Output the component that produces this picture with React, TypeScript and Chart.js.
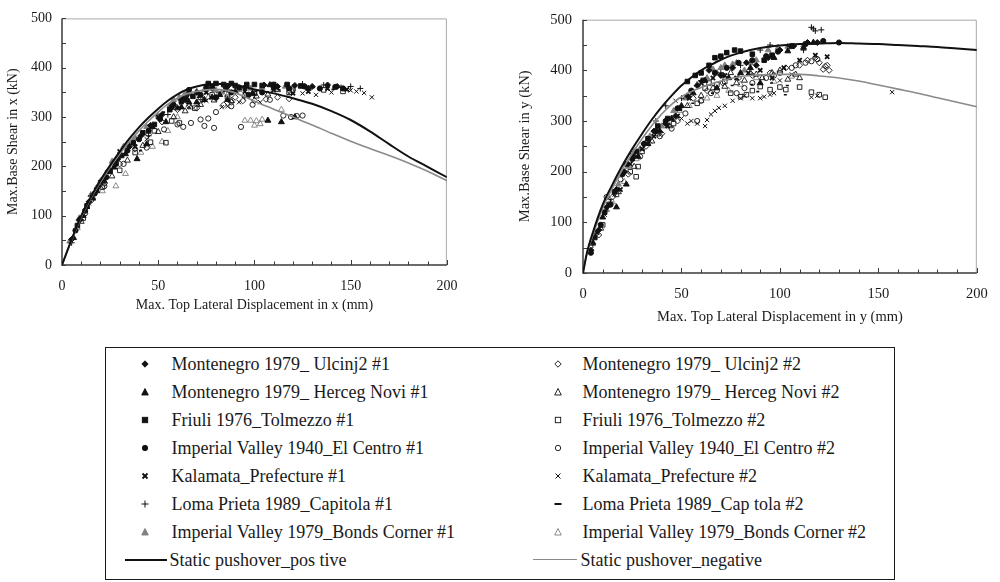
import React, { useEffect, useRef } from 'react';
import { Chart, registerables } from 'chart.js';
Chart.register(...registerables);

type Pt = [number, number];

// ---------------- X direction (left chart) ----------------
const xUlcinj1: Pt[] = [[5,52],[9,92],[14,128],[19,160],[24,190],[29,215],[35,240],[41,262],[46,283],[52,305],[58,325],[63,338],[70,350],[78,358],[86,362],[95,360],[105,365],[112,362],[121,364],[130,362],[138,365],[143,362]];
const xHerceg1: Pt[] = [[6,55],[11,100],[16,135],[22,170],[27,198],[33,225],[39,215],[44,245],[47,280],[54,290],[60,318],[62,320],[66,330],[70,330],[74,335],[78,340],[82,345],[86,335],[90,352],[99,348],[107,293],[114,290],[121,300],[108,365],[128,358]];
const xFriuli1: Pt[] = [[8,80],[13,120],[18,152],[25,190],[31,222],[37,248],[42,268],[48,285],[56,315],[62,332],[68,342],[76,368],[78,362],[80,368],[84,366],[88,368],[90,364],[96,366],[100,366],[104,364],[110,366],[117,366],[124,363]];
const xCentro1: Pt[] = [[7,70],[12,110],[17,145],[23,178],[28,205],[34,232],[40,255],[45,272],[51,296],[57,320],[64,335],[66,355],[72,345],[75,360],[80,340],[88,350],[92,360],[97,345],[104,350],[110,360],[118,358],[126,362],[134,358],[142,361],[146,358]];
const xKalamata1: Pt[] = [[10,95],[20,168],[30,230],[38,240],[50,300],[58,325],[65,340],[75,350],[85,355],[95,352],[110,355],[120,348],[128,352],[138,358],[148,356]];
const xLoma1: Pt[] = [[5,45],[15,140],[25,195],[35,245],[45,262],[55,305],[65,345],[75,355],[85,360],[95,340],[100,345],[110,365],[125,367],[136,365],[145,360],[150,362],[155,358]];
const xBonds1: Pt[] = [[4,48],[9,95],[15,142],[20,170],[26,210],[32,240],[38,258],[44,280],[50,303],[56,323],[58,335],[61,340],[64,348],[66,350],[70,352],[74,355],[80,354],[83,350],[86,356],[92,355],[98,358],[104,360],[110,358],[116,362],[120,360]];
const xUlcinj2: Pt[] = [[9,90],[15,130],[22,165],[30,205],[38,235],[45,265],[52,290],[60,315],[66,322],[70,318],[73,335],[80,338],[84,325],[88,330],[90,340],[94,333],[100,333],[106,336],[112,340],[118,337]];
const xHerceg2: Pt[] = [[10,88],[18,150],[26,180],[34,212],[42,242],[50,270],[58,300],[64,312],[72,325],[79,334],[88,333],[95,345],[101,342],[107,346],[112,355]];
const xFriuli2: Pt[] = [[11,95],[21,158],[30,192],[38,228],[46,249],[48,272],[54,248],[57,292],[61,288],[69,318],[72,340],[78,345],[86,340],[100,348],[118,350],[136,355],[146,352]];
const xCentro2: Pt[] = [[12,105],[22,160],[32,205],[44,238],[53,275],[60,285],[63,280],[67,288],[72,295],[74,282],[76,297],[79,278],[80,310],[88,322],[93,280],[99,325],[108,335],[115,303],[119,300],[122,302],[125,303]];
const xKalamata2: Pt[] = [[14,125],[28,210],[44,255],[56,315],[62,322],[66,320],[71,325],[75,333],[83,320],[86,322],[92,330],[103,330],[118,348],[125,348],[132,345],[140,350],[150,354],[153,352],[157,349],[161,340]];
const xLoma2: Pt[] = [[13,115],[26,200],[40,232],[52,310],[60,335],[70,340],[80,350],[92,355],[100,352],[112,355],[120,355],[130,360],[140,356],[146,357]];
const xBonds2: Pt[] = [[8,75],[16,138],[21,150],[28,160],[33,185],[41,228],[47,240],[52,250],[55,272],[60,300],[67,320],[76,340],[86,345],[95,293],[98,293],[100,283],[101,292],[103,286],[104,295],[114,315]];
const xPushPos: Pt[] = [[0,0],[5,52],[10,100],[15,138],[20,172],[25,202],[30,230],[35,256],[40,279],[45,299],[50,317],[55,333],[60,346],[65,356],[70,362],[75,366],[80,367],[85,367],[90,365],[95,361],[100,356],[110,348],[120,338],[130,327],[140,312],[150,294],[160,271],[170,245],[180,220],[190,199],[200,178]];
const xPushNeg: Pt[] = [[0,0],[5,50],[10,97],[15,135],[20,168],[25,198],[30,225],[35,250],[40,272],[45,292],[50,310],[55,326],[60,338],[65,347],[70,352],[75,355],[80,356],[85,354],[90,349],[95,341],[100,332],[110,316],[120,300],[130,284],[140,267],[150,251],[160,236],[170,222],[180,207],[190,190],[200,171]];

// ---------------- Y direction (right chart) ----------------
const yUlcinj1: Pt[] = [[4,45],[8,85],[12,130],[17,165],[21,200],[26,230],[31,255],[36,280],[42,295],[47,310],[53,350],[58,370],[64,400],[70,390],[76,405],[83,415],[88,410],[94,425],[100,440],[107,448],[114,455],[119,455]];
const yHerceg1: Pt[] = [[5,60],[10,110],[17,130],[22,175],[28,230],[33,255],[39,280],[45,305],[50,330],[56,355],[62,380],[68,365],[74,385],[80,395],[85,405],[90,375],[97,425],[104,438],[112,445],[117,455]];
const yFriuli1: Pt[] = [[6,70],[11,120],[16,160],[22,215],[27,240],[33,265],[38,290],[43,305],[49,325],[53,378],[57,390],[60,395],[64,410],[67,425],[70,428],[73,435],[77,440],[80,438],[86,432],[92,420],[96,430]];
const yCentro1: Pt[] = [[4,40],[9,95],[14,135],[20,195],[25,225],[31,255],[37,280],[42,300],[48,325],[55,360],[61,380],[67,395],[73,405],[79,415],[86,420],[93,428],[99,437],[106,448],[113,452],[122,458],[130,455]];
const yKalamata1: Pt[] = [[7,80],[13,135],[19,165],[24,215],[30,245],[36,270],[43,290],[48,310],[54,345],[60,375],[66,385],[72,390],[78,385],[84,395],[90,400],[96,385],[102,405],[110,420],[118,430],[124,427]];
const yLoma1: Pt[] = [[5,55],[14,140],[25,235],[37,300],[42,330],[50,345],[60,380],[70,395],[80,410],[90,440],[95,450],[105,447],[112,440],[116,485],[118,478],[121,480],[117,482]];
const yBonds1: Pt[] = [[6,75],[12,125],[18,175],[23,210],[29,245],[34,270],[40,290],[46,320],[52,345],[58,372],[63,385],[66,402],[68,395],[70,405],[72,410],[76,412],[78,415],[82,400],[85,415],[88,420],[94,440],[99,445],[104,447],[112,450]];
const yUlcinj2: Pt[] = [[8,75],[15,150],[23,195],[32,250],[40,275],[48,300],[56,345],[63,360],[71,375],[79,385],[86,390],[95,395],[103,405],[110,410],[114,420],[118,425],[120,415],[122,402],[123,408],[124,410],[125,400]];
const yHerceg2: Pt[] = [[9,88],[18,160],[26,210],[35,260],[44,290],[53,330],[60,350],[66,365],[72,368],[75,395],[78,375],[82,380],[85,395],[88,392],[91,385],[96,395],[100,400],[104,382],[108,392],[110,385]];
const yFriuli2: Pt[] = [[10,95],[17,155],[24,200],[27,190],[28,210],[30,240],[38,275],[46,295],[58,335],[62,365],[64,375],[68,372],[72,378],[75,355],[80,348],[83,352],[86,360],[90,368],[95,362],[100,367],[103,362],[110,367],[116,357],[120,352],[123,347]];
const yCentro2: Pt[] = [[12,150],[19,185],[29,230],[39,270],[45,285],[52,315],[58,300],[60,340],[65,355],[68,360],[71,390],[78,355],[82,365],[86,375],[93,385],[97,390],[100,395],[106,405],[108,410],[113,415],[116,418],[119,422]];
const yKalamata2: Pt[] = [[11,115],[16,155],[34,260],[47,340],[50,305],[53,295],[55,300],[58,295],[62,290],[63,302],[65,313],[67,320],[69,326],[72,330],[76,340],[80,345],[82,350],[86,345],[90,345],[92,348],[95,352],[97,355],[100,380],[106,392],[116,347],[119,350],[157,357]];
const yLoma2: Pt[] = [[13,145],[29,245],[45,300],[55,335],[65,355],[75,370],[85,372],[88,358],[95,375],[102,352],[103,370]];
const yBonds2: Pt[] = [[7,80],[15,140],[21,180],[27,225],[33,265],[41,290],[49,320],[54,330],[60,340],[63,345],[68,350],[74,360],[80,372],[88,385],[97,378],[106,388]];
const yPushPos: Pt[] = [[0,0],[2,40],[5,80],[10,135],[15,175],[20,212],[25,245],[30,275],[35,303],[40,328],[45,350],[50,370],[55,386],[60,400],[65,411],[70,421],[75,429],[80,435],[85,440],[90,444],[95,447],[100,449],[110,452],[120,453],[130,454],[140,453],[150,452],[160,450],[170,448],[180,446],[190,443],[200,440]];
const yPushNeg: Pt[] = [[0,0],[2,38],[5,75],[10,128],[15,168],[20,204],[25,236],[30,265],[35,291],[40,314],[45,333],[50,348],[55,358],[60,366],[65,373],[70,379],[75,384],[80,388],[90,391],[100,392],[110,392],[120,389],[130,385],[140,379],[150,371],[160,363],[170,355],[180,346],[190,337],[200,328]];

// ---------------- labels / ticks ----------------
const seriesLabels = [
  'Montenegro 1979_ Ulcinj2 #1', 'Montenegro 1979_ Herceg Novi #1', 'Friuli 1976_Tolmezzo #1',
  'Imperial Valley 1940_El Centro #1', 'Kalamata_Prefecture #1', 'Loma Prieta 1989_Capitola #1',
  'Imperial Valley 1979_Bonds Corner #1',
  'Montenegro 1979_ Ulcinj2 #2', 'Montenegro 1979_ Herceg Novi #2', 'Friuli 1976_Tolmezzo #2',
  'Imperial Valley 1940_El Centro #2', 'Kalamata_Prefecture #2', 'Loma Prieta 1989_Cap tola #2',
  'Imperial Valley 1979_Bonds Corner #2',
];
const lineLabels = ['Static pushover_pos tive', 'Static pushover_negative'];
const xMajorTicks = [0, 50, 100, 150, 200];
const yMajorTicks = [0, 100, 200, 300, 400, 500];
const leftTitles = ['Max. Top Lateral Displacement in x (mm)', 'Max.Base Shear in x (kN)'];
const rightTitles = ['Max. Top Lateral Displacement in y (mm)', 'Max.Base Shear in y (kN)'];

const xSeries = [xUlcinj1, xHerceg1, xFriuli1, xCentro1, xKalamata1, xLoma1, xBonds1, xUlcinj2, xHerceg2, xFriuli2, xCentro2, xKalamata2, xLoma2, xBonds2];
const ySeries = [yUlcinj1, yHerceg1, yFriuli1, yCentro1, yKalamata1, yLoma1, yBonds1, yUlcinj2, yHerceg2, yFriuli2, yCentro2, yKalamata2, yLoma2, yBonds2];

// ---------------- styles ----------------
const BLACK = '#111111';
const GRAY = '#808080';
type MStyle = { style: string; fill: boolean; color: string; r: number; bw: number };
const markerStyles: MStyle[] = [
  { style: 'rectRot', fill: true, color: BLACK, r: 3, bw: 1 },
  { style: 'triangle', fill: true, color: BLACK, r: 3.4, bw: 1 },
  { style: 'rect', fill: true, color: BLACK, r: 3.2, bw: 1 },
  { style: 'circle', fill: true, color: BLACK, r: 2.6, bw: 1 },
  { style: 'crossRot', fill: false, color: BLACK, r: 3, bw: 1.8 },
  { style: 'cross', fill: false, color: BLACK, r: 3, bw: 1 },
  { style: 'triangle', fill: true, color: GRAY, r: 3.4, bw: 1 },
  { style: 'rectRot', fill: false, color: BLACK, r: 3, bw: 0.9 },
  { style: 'triangle', fill: false, color: BLACK, r: 3.4, bw: 0.9 },
  { style: 'rect', fill: false, color: BLACK, r: 3.2, bw: 0.9 },
  { style: 'circle', fill: false, color: BLACK, r: 2.6, bw: 0.9 },
  { style: 'crossRot', fill: false, color: BLACK, r: 3, bw: 1 },
  { style: 'dash', fill: false, color: BLACK, r: 3, bw: 1.6 },
  { style: 'triangle', fill: false, color: GRAY, r: 3.4, bw: 0.9 },
];

const FONT = "'Liberation Serif', 'Times New Roman', serif";

function buildDatasets(series: Pt[][], pos: Pt[], neg: Pt[]) {
  const toXY = (a: Pt[]) => a.map(([x, y]) => ({ x, y }));
  const lines = [
    { label: lineLabels[0], data: toXY(pos), showLine: true, borderColor: BLACK, borderWidth: 2, pointRadius: 0, cubicInterpolationMode: 'monotone', fill: false },
    { label: lineLabels[1], data: toXY(neg), showLine: true, borderColor: '#8a8a8a', borderWidth: 1.6, pointRadius: 0, cubicInterpolationMode: 'monotone', fill: false },
  ];
  const scat = series.map((pts, i) => {
    const s = markerStyles[i];
    return {
      label: seriesLabels[i],
      data: toXY(pts),
      showLine: false,
      pointStyle: s.style,
      pointRadius: s.r,
      pointHoverRadius: s.r,
      pointBorderWidth: s.bw,
      pointBorderColor: s.color,
      pointBackgroundColor: s.fill ? s.color : 'rgba(0,0,0,0)',
    };
  });
  return [...lines, ...scat];
}

const framePlugin = {
  id: 'frameTicks',
  beforeDatasetsDraw(chart: any) {
    const { ctx, chartArea: a, scales } = chart;
    ctx.save();
    ctx.strokeStyle = '#a8a8a8';
    ctx.lineWidth = 1;
    ctx.beginPath();
    ctx.moveTo(a.left, a.top + 0.5);
    ctx.lineTo(a.right - 0.5, a.top + 0.5);
    ctx.lineTo(a.right - 0.5, a.bottom);
    ctx.stroke();
    ctx.strokeStyle = '#3a3a3a';
    ctx.lineWidth = 1.5;
    ctx.beginPath();
    ctx.moveTo(a.left, a.top);
    ctx.lineTo(a.left, a.bottom);
    ctx.lineTo(a.right, a.bottom);
    ctx.stroke();
    ctx.lineWidth = 1;
    ctx.beginPath();
    scales.x.ticks.forEach((t: any) => {
      const px = Math.round(scales.x.getPixelForValue(t.value)) + 0.5;
      const len = xMajorTicks.includes(t.value) ? 5 : 3.5;
      ctx.moveTo(px, a.bottom);
      ctx.lineTo(px, a.bottom - len);
    });
    scales.y.ticks.forEach((t: any) => {
      const py = Math.round(scales.y.getPixelForValue(t.value)) + 0.5;
      ctx.moveTo(a.left, py);
      ctx.lineTo(a.left + 4, py);
    });
    ctx.stroke();
    ctx.restore();
  },
};

type Geo = {
  left: number; top: number; width: number; height: number;
  padRight: number; padTop: number; yWidth: number; xHeight: number;
  tickFont: number; titleFont: number; yTickPad: number; xTickPad: number;
  xTitlePadBottom: number; yTitlePadTop: number;
};

function ScatterPanel({ series, pos, neg, titles, geo }: { series: Pt[][]; pos: Pt[]; neg: Pt[]; titles: string[]; geo: Geo }) {
  const ref = useRef<HTMLCanvasElement>(null);
  useEffect(() => {
    if (!ref.current) return;
    const chart = new Chart(ref.current, {
      type: 'scatter',
      data: { datasets: buildDatasets(series, pos, neg) as any },
      options: {
        animation: false,
        responsive: false,
        events: [],
        layout: { padding: { left: 0, right: geo.padRight, top: geo.padTop, bottom: 0 } },
        plugins: { legend: { display: false }, tooltip: { enabled: false }, title: { display: false } },
        scales: {
          x: {
            type: 'linear', min: 0, max: 200,
            grid: { display: false, drawTicks: false },
            border: { display: false },
            ticks: {
              stepSize: 10, autoSkip: false, maxRotation: 0, padding: geo.xTickPad,
              color: '#1a1a1a', font: { family: FONT, size: geo.tickFont },
              callback: (v: any) => (xMajorTicks.includes(Number(v)) ? String(v) : ''),
            },
            title: { display: true, text: titles[0], color: '#1a1a1a', font: { family: FONT, size: geo.titleFont }, padding: { top: 0, bottom: geo.xTitlePadBottom } },
            afterFit: (s: any) => { s.height = geo.xHeight; },
          },
          y: {
            type: 'linear', min: 0, max: 500,
            grid: { display: false, drawTicks: false },
            border: { display: false },
            ticks: {
              stepSize: 50, autoSkip: false, padding: geo.yTickPad,
              color: '#1a1a1a', font: { family: FONT, size: geo.tickFont },
              callback: (v: any) => (yMajorTicks.includes(Number(v)) ? String(v) : ''),
            },
            title: { display: true, text: titles[1], color: '#1a1a1a', font: { family: FONT, size: geo.titleFont }, padding: { top: geo.yTitlePadTop, bottom: 0 } },
            afterFit: (s: any) => { s.width = geo.yWidth; },
          },
        },
      } as any,
      plugins: [framePlugin],
    });
    return () => chart.destroy();
  }, []);
  return (
    <canvas
      ref={ref}
      width={geo.width}
      height={geo.height}
      style={{ position: 'absolute', left: geo.left, top: geo.top, width: geo.width, height: geo.height, display: 'block' }}
    />
  );
}

function Marker({ s }: { s: MStyle }) {
  const fill = s.fill ? s.color : 'none';
  let shape: React.ReactNode = null;
  switch (s.style) {
    case 'rectRot': shape = <polygon points="5,1.8 8.2,5 5,8.2 1.8,5" fill={fill} stroke={s.color} strokeWidth={0.9} />; break;
    case 'triangle': shape = <polygon points="5,1.5 8.3,8 1.7,8" fill={fill} stroke={s.color} strokeWidth={0.9} />; break;
    case 'rect': shape = <rect x={2.3} y={2.3} width={5.4} height={5.4} fill={fill} stroke={s.color} strokeWidth={0.9} />; break;
    case 'circle': shape = <circle cx={5} cy={5} r={2.7} fill={fill} stroke={s.color} strokeWidth={0.9} />; break;
    case 'crossRot': shape = <g stroke={s.color} strokeWidth={s.bw}><line x1={2.5} y1={2.5} x2={7.5} y2={7.5} /><line x1={7.5} y1={2.5} x2={2.5} y2={7.5} /></g>; break;
    case 'cross': shape = <g stroke={s.color} strokeWidth={1}><line x1={5} y1={1.5} x2={5} y2={8.5} /><line x1={1.5} y1={5} x2={8.5} y2={5} /></g>; break;
    case 'dash': shape = <line x1={1.5} y1={5} x2={8.5} y2={5} stroke={s.color} strokeWidth={2} />; break;
  }
  return <svg width={10} height={10} viewBox="0 0 10 10" style={{ display: 'block' }}>{shape}</svg>;
}

function Legend() {
  const boxLeft = 105, boxTop = 347, bw = 1.5;
  const rowY = (i: number) => 364 + 28 * i - boxTop - bw;
  const colText = [172, 583];
  const colMarker = [145, 558];
  const items: React.ReactNode[] = [];
  for (let c = 0; c < 2; c++) {
    for (let r = 0; r < 7; r++) {
      const idx = c * 7 + r;
      items.push(
        <div key={'m' + idx} style={{ position: 'absolute', left: colMarker[c] - boxLeft - bw - 5, top: rowY(r) - 5 }}>
          <Marker s={markerStyles[idx]} />
        </div>
      );
      items.push(
        <div key={'t' + idx} style={{ position: 'absolute', left: colText[c] - boxLeft - bw, top: rowY(r) - 12, height: 24, lineHeight: '24px', whiteSpace: 'nowrap' }}>
          {seriesLabels[idx]}
        </div>
      );
    }
  }
  const lineCols = [[125, 167, 170, BLACK, 2], [533, 577, 581, '#8a8a8a', 1.8]] as const;
  lineCols.forEach(([x1, x2, tx, col, w], i) => {
    items.push(
      <div key={'l' + i} style={{ position: 'absolute', left: x1 - boxLeft - bw, top: rowY(7) - w / 2, width: x2 - x1, height: w, background: col }} />
    );
    items.push(
      <div key={'lt' + i} style={{ position: 'absolute', left: tx - boxLeft - bw, top: rowY(7) - 12, height: 24, lineHeight: '24px', whiteSpace: 'nowrap' }}>
        {lineLabels[i]}
      </div>
    );
  });
  return (
    <div style={{ position: 'absolute', left: boxLeft, top: boxTop, width: 790, height: 233, border: `${bw}px solid #1a1a1a`, boxSizing: 'border-box', fontFamily: FONT, fontSize: 18, color: '#1a1a1a' }}>
      {items}
    </div>
  );
}

const leftGeo: Geo = { left: 0, top: 0, width: 470, height: 320, padRight: 18, padTop: 10, yWidth: 62, xHeight: 55, tickFont: 14, titleFont: 14, yTickPad: 10, xTickPad: 12.6, xTitlePadBottom: 6.6, yTitlePadTop: 4.6 };
const rightGeo: Geo = { left: 510, top: 0, width: 490, height: 340, padRight: 15, padTop: 10, yWidth: 73, xHeight: 67, tickFont: 14.5, titleFont: 14.5, yTickPad: 11, xTickPad: 12.3, xTitlePadBottom: 14.3, yTitlePadTop: 6.3 };

export default function App() {
  return (
    <div style={{ position: 'absolute', left: 0, top: 0, width: 1000, height: 582, background: '#ffffff', overflow: 'hidden' }}>
      <ScatterPanel series={xSeries} pos={xPushPos} neg={xPushNeg} titles={leftTitles} geo={leftGeo} />
      <ScatterPanel series={ySeries} pos={yPushPos} neg={yPushNeg} titles={rightTitles} geo={rightGeo} />
      <Legend />
    </div>
  );
}
